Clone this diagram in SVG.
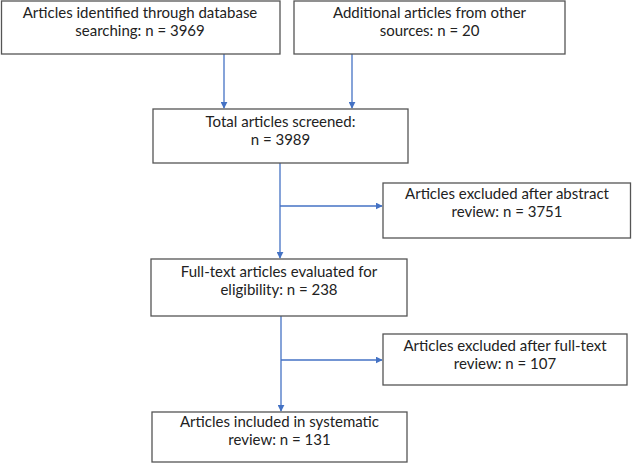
<svg xmlns="http://www.w3.org/2000/svg" width="632" height="463" viewBox="0 0 632 463">
<defs>
<marker id="ah" viewBox="0 0 10 10" refX="9" refY="5" markerWidth="7" markerHeight="7" markerUnits="userSpaceOnUse" orient="auto">
<path d="M0,0 L10,5 L0,10 z" fill="#4472C4"/>
</marker>
<style>
.box{fill:#fff;stroke:#555;stroke-width:1.3}
.t{font-family:Lato,"Noto Sans",sans-serif;font-size:15px;fill:#222;text-anchor:middle}
.c{fill:none;stroke:#4472C4;stroke-width:1.3}
</style>
</defs>
<rect width="632" height="463" fill="#fff"/>
<g id="connectors">
<line class="c" x1="224" y1="54" x2="224" y2="108" marker-end="url(#ah)"/>
<line class="c" x1="352" y1="54" x2="352" y2="108" marker-end="url(#ah)"/>
<line class="c" x1="280" y1="163" x2="280" y2="258" marker-end="url(#ah)"/>
<line class="c" x1="280" y1="206" x2="382" y2="206" marker-end="url(#ah)"/>
<line class="c" x1="281" y1="316" x2="281" y2="411" marker-end="url(#ah)"/>
<line class="c" x1="281" y1="360" x2="382" y2="360" marker-end="url(#ah)"/>
</g>
<g id="n1"><rect class="box" x="1.5" y="1" width="278.5" height="53"/>
<text class="t" x="140" y="18">Articles identified through database</text>
<text class="t" x="140" y="36">searching: n = 3969</text></g>
<g id="n2"><rect class="box" x="294" y="1" width="271" height="53"/>
<text class="t" x="429.5" y="18">Additional articles from other</text>
<text class="t" x="429.5" y="36">sources: n = 20</text></g>
<g id="n3"><rect class="box" x="153" y="109" width="255" height="54"/>
<text class="t" x="280.5" y="127">Total articles screened:</text>
<text class="t" x="280.5" y="145">n = 3989</text></g>
<g id="n4"><rect class="box" x="383" y="183" width="247.5" height="55"/>
<text class="t" x="507" y="199">Articles excluded after abstract</text>
<text class="t" x="507" y="217">review: n = 3751</text></g>
<g id="n5"><rect class="box" x="151" y="259" width="256" height="57"/>
<text class="t" x="279" y="277">Full-text articles evaluated for</text>
<text class="t" x="279" y="295">eligibility: n = 238</text></g>
<g id="n6"><rect class="box" x="383" y="334" width="244" height="51"/>
<text class="t" x="505" y="351">Articles excluded after full-text</text>
<text class="t" x="505" y="369">review: n = 107</text></g>
<g id="n7"><rect class="box" x="152" y="412" width="255" height="50"/>
<text class="t" x="279.5" y="427">Articles included in systematic</text>
<text class="t" x="279.5" y="445">review: n = 131</text></g>
</svg>
